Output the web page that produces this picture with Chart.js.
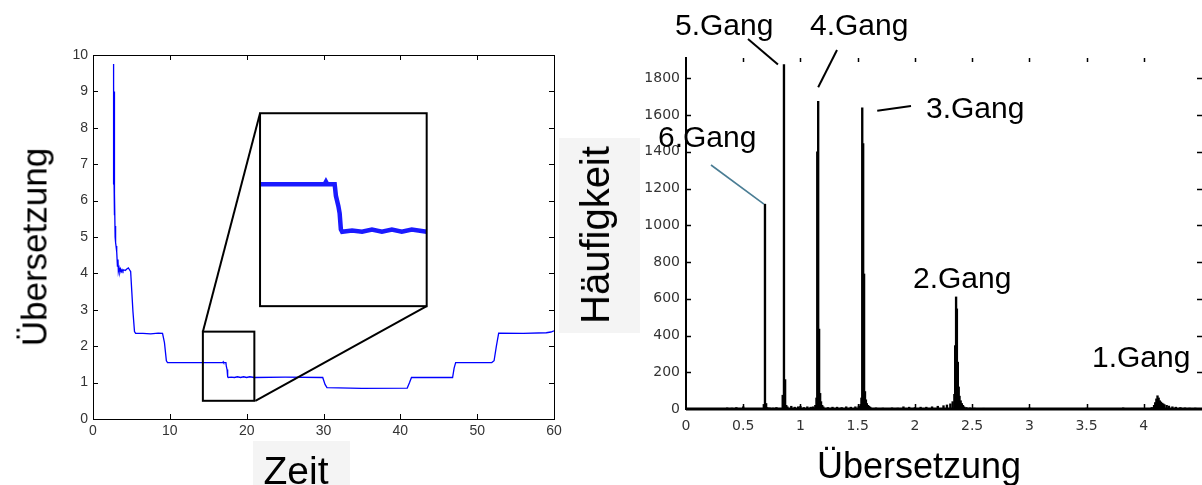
<!DOCTYPE html>
<html><head><meta charset="utf-8">
<script src="https://cdn.jsdelivr.net/npm/chart.js@4.4.1/dist/chart.umd.min.js"></script>
<style>
html,body{margin:0;padding:0;background:#fff;}
#wrap{position:relative;width:1202px;height:485px;overflow:hidden;background:#fff;}
canvas{position:absolute;left:0;top:0;}
.lbl{position:absolute;font-family:"Liberation Sans",Arial,sans-serif;color:#000;white-space:nowrap;line-height:1;}
.gear{font-size:30px;}
.bg{position:absolute;background:#f4f4f4;}
</style></head>
<body><div id="wrap">
<div class="bg" style="left:253px;top:441px;width:97px;height:44px"></div>
<div class="bg" style="left:559px;top:138px;width:81px;height:195px"></div>
<canvas id="cL" width="1202" height="485"></canvas>
<canvas id="cI" width="1202" height="485"></canvas>
<canvas id="cR" width="1202" height="485"></canvas>
<div class="lbl" style="font-size:35px;left:34px;top:247px;transform:translate(-50%,-50%) rotate(-90deg)">Übersetzung</div>
<div class="lbl" style="font-size:39px;left:296px;top:451px;transform:translateX(-50%)">Zeit</div>
<div class="lbl" style="font-size:40px;left:595px;top:235px;transform:translate(-50%,-50%) rotate(-90deg)">Häufigkeit</div>
<div class="lbl" style="font-size:36px;left:919px;top:448px;transform:translateX(-50%)">Übersetzung</div>
<div class="lbl gear" style="left:675px;top:10px">5.Gang</div>
<div class="lbl gear" style="left:810px;top:10px">4.Gang</div>
<div class="lbl gear" style="left:926px;top:93px">3.Gang</div>
<div class="lbl gear" style="left:658px;top:122px">6.Gang</div>
<div class="lbl gear" style="left:913px;top:263px">2.Gang</div>
<div class="lbl gear" style="left:1092px;top:342px">1.Gang</div>
</div>
<script>
// ---- left chart: gear ratio over time ----
const timeS = [2.62,2.632,2.644,2.656,2.668,2.68,2.692,2.704,2.716,2.728,2.74,2.752,2.764,2.776,2.788,2.80,2.82,2.85,2.88,2.92,2.96,3.0,3.05,3.12,3.18,3.25,3.3,3.4,3.5,3.6,3.7,3.8,3.9,4.0,4.2,4.4,4.6,4.75,4.9,5.05,5.2,5.4,5.55,6.5,7.5,8.5,9.05,9.3,9.55,9.7,12,15,16.9,16.95,17.0,17.3,17.35,17.45,17.5,17.55,17.6,18,18.4,18.8,19.2,19.6,20,20.4,21,25,29.9,30.2,30.45,35,40.9,41.2,41.45,46.8,47.0,47.2,51.9,52.2,52.5,52.8,56,59,59.6,60];
const ratioVals = [6.45,9.4,6.5,9.75,6.6,9.4,6.5,9.35,6.6,9.2,6.5,9.0,6.45,8.6,6.4,7.6,5.6,6.2,5.0,5.3,4.85,4.75,4.7,4.6,4.2,4.38,4.05,4.15,4.03,4.12,4.05,4.1,4.06,4.1,4.08,4.12,4.15,4.1,4.05,3.5,2.95,2.4,2.35,2.35,2.34,2.36,2.35,2.1,1.6,1.55,1.55,1.55,1.55,1.57,1.55,1.55,1.45,1.36,1.3,1.16,1.14,1.15,1.14,1.16,1.14,1.16,1.14,1.16,1.14,1.15,1.14,0.95,0.86,0.84,0.85,1.0,1.14,1.14,1.4,1.55,1.55,1.6,2.0,2.36,2.35,2.37,2.39,2.42];
const leftXTicks = [0,10,20,30,40,50,60];
const leftYTicks = [0,1,2,3,4,5,6,7,8,9,10];
const zoomWindow = {x0:14.3, x1:21, y0:0.5, y1:2.4};
const insetRegion = {x0:21.74, x1:43.43, y0:3.10, y1:8.40};
const insetRange = {x0:14.3, x1:21, y0:0.5, y1:2.16};

// ---- right chart: histogram of gear ratios ----
const gearBins = [0.36,0.40,0.44,0.50,0.68,0.69,0.70,0.71,0.73,0.76,0.79,0.845,0.856,0.866,0.876,0.886,0.92,0.95,0.98,1.0,1.03,1.06,1.09,1.11,1.13,1.14,1.147,1.155,1.163,1.172,1.18,1.19,1.20,1.24,1.28,1.32,1.36,1.40,1.44,1.48,1.51,1.525,1.533,1.540,1.548,1.556,1.564,1.572,1.58,1.59,1.60,1.61,1.66,1.72,1.80,1.85,1.90,1.95,2.0,2.05,2.1,2.15,2.2,2.25,2.28,2.31,2.33,2.345,2.352,2.360,2.367,2.375,2.383,2.39,2.40,2.41,2.42,2.43,2.45,2.48,2.52,2.6,3.0,3.5,3.82,4.07,4.09,4.10,4.11,4.12,4.13,4.14,4.15,4.16,4.17,4.18,4.2,4.22,4.25,4.28,4.32,4.36,4.4,4.45];
const gearCounts = [6,5,8,12,25,1115,30,8,6,5,8,75,1875,160,20,12,15,10,12,15,8,12,10,12,20,60,1400,1675,435,85,40,20,12,8,10,10,8,12,10,12,15,25,60,1640,1445,735,95,50,30,20,15,10,6,5,6,5,12,10,8,10,10,12,15,18,22,28,40,80,345,610,545,255,120,70,45,30,20,12,8,6,5,4,6,5,6,8,20,35,55,72,60,45,38,32,28,24,20,16,12,10,8,6,5,5];
const rightXTicks = [0,0.5,1,1.5,2,2.5,3,3.5,4];
const rightYTicks = [0,200,400,600,800,1000,1200,1400,1600,1800];
const gearPeaks = {'6.Gang':0.69,'5.Gang':0.856,'4.Gang':1.155,'3.Gang':1.54};

const W = 1202, H = 485;
function seg(ctx,x1,y1,x2,y2){ctx.beginPath();ctx.moveTo(x1,y1);ctx.lineTo(x2,y2);ctx.stroke();}

const leftDeco = {
  id:'leftDeco',
  afterDraw(chart){
    const {ctx, chartArea:a, scales:{x,y}} = chart;
    ctx.save();
    ctx.strokeStyle='#000'; ctx.lineWidth=1;
    ctx.strokeRect(Math.round(a.left)+0.5, Math.round(a.top)+0.5, Math.round(a.right-a.left), Math.round(a.bottom-a.top));
    leftXTicks.forEach(v=>{ if(v===0||v===60) return; const px=Math.round(x.getPixelForValue(v))+0.5;
      seg(ctx,px,a.bottom,px,a.bottom-5); seg(ctx,px,a.top,px,a.top+5); });
    leftYTicks.forEach(v=>{ if(v===0||v===10) return; const py=Math.round(y.getPixelForValue(v))+0.5;
      seg(ctx,a.left,py,a.left+5,py); seg(ctx,a.right,py,a.right-5,py); });
    const zx0=x.getPixelForValue(zoomWindow.x0), zx1=x.getPixelForValue(zoomWindow.x1);
    const zy0=y.getPixelForValue(zoomWindow.y0), zy1=y.getPixelForValue(zoomWindow.y1);
    const ix0=x.getPixelForValue(insetRegion.x0), ix1=x.getPixelForValue(insetRegion.x1);
    const iy0=y.getPixelForValue(insetRegion.y0), iy1=y.getPixelForValue(insetRegion.y1);
    ctx.lineWidth=2;
    ctx.strokeRect(zx0, zy1, zx1-zx0, zy0-zy1);
    seg(ctx, zx0, zy1, ix0, iy1);
    seg(ctx, zx1+1, zy0, ix1, iy0);
    ctx.restore();
  }
};

const tickFontL = {family:'"Liberation Sans", Arial, sans-serif', size:14};
const chartL = new Chart(document.getElementById('cL'), {
  type:'line',
  data:{datasets:[{data:timeS.map((t,i)=>({x:t,y:ratioVals[i]})), borderColor:'#0000ff', borderWidth:1.3, pointRadius:0, tension:0, fill:false}]},
  options:{
    responsive:false, animation:false, devicePixelRatio:1,
    layout:{padding:{left:0, top:55, right:W-554, bottom:0}},
    plugins:{legend:{display:false}, tooltip:{enabled:false}},
    scales:{
      x:{type:'linear', min:0, max:60,
         afterBuildTicks(s){ s.ticks = leftXTicks.map(v=>({value:v})); },
         afterFit(s){ s.height = H-419; },
         ticks:{font:tickFontL, color:'#333', padding:4, maxRotation:0, autoSkip:false, callback:v=>String(v)},
         grid:{display:false, drawTicks:false}, border:{display:false}},
      y:{type:'linear', min:0, max:10,
         afterBuildTicks(s){ s.ticks = leftYTicks.map(v=>({value:v})); },
         afterFit(s){ s.width = 93; },
         ticks:{font:tickFontL, color:'#333', padding:5, autoSkip:false, callback:v=>String(v)},
         grid:{display:false, drawTicks:false}, border:{display:false}}
    }
  },
  plugins:[leftDeco]
});

const sx = chartL.scales.x, sy = chartL.scales.y;
const iL = sx.getPixelForValue(insetRegion.x0), iR = sx.getPixelForValue(insetRegion.x1);
const iT = sy.getPixelForValue(insetRegion.y1), iB = sy.getPixelForValue(insetRegion.y0);
const insetDeco = {
  id:'insetDeco',
  beforeDatasetsDraw(chart){ const {ctx,chartArea:a}=chart; ctx.save(); ctx.fillStyle='#fff'; ctx.fillRect(a.left,a.top,a.right-a.left,a.bottom-a.top); ctx.restore(); },
  afterDraw(chart){ const {ctx,chartArea:a}=chart; ctx.save(); ctx.strokeStyle='#000'; ctx.lineWidth=2; ctx.strokeRect(a.left,a.top,a.right-a.left,a.bottom-a.top); ctx.restore(); }
};
new Chart(document.getElementById('cI'), {
  type:'line',
  data:{datasets:[{data:timeS.map((t,i)=>({x:t,y:ratioVals[i]})), borderColor:'#1a1aff', borderWidth:4.5, pointRadius:0, tension:0, fill:false}]},
  options:{
    responsive:false, animation:false, devicePixelRatio:1,
    layout:{padding:{left:iL, top:iT, right:W-iR, bottom:H-iB}},
    plugins:{legend:{display:false}, tooltip:{enabled:false}},
    scales:{
      x:{type:'linear', display:false, min:insetRange.x0, max:insetRange.x1},
      y:{type:'linear', display:false, min:insetRange.y0, max:insetRange.y1}
    }
  },
  plugins:[insetDeco]
});

function peakCount(xc){ let m=0, mi=-1; gearBins.forEach((b,i)=>{ if(Math.abs(b-xc)<0.012 && gearCounts[i]>m){m=gearCounts[i];mi=i;} }); return {x:gearBins[mi], y:m}; }
const rightDeco = {
  id:'rightDeco',
  afterDatasetsDraw(chart){
    const {ctx, chartArea:a, scales:{x,y}} = chart;
    ctx.save();
    ctx.strokeStyle='#000';
    ctx.lineWidth=2; seg(ctx, a.left, a.top, a.left, a.bottom+1);
    ctx.lineWidth=3; seg(ctx, a.left, a.bottom, W, a.bottom);
    ctx.lineWidth=1.5;
    rightXTicks.forEach(v=>{ if(v===0) return; const px=Math.round(x.getPixelForValue(v))+0.5;
      seg(ctx,px,a.top+1,px,a.top+5); seg(ctx,px,a.bottom-5,px,a.bottom); });
    rightYTicks.forEach(v=>{ if(v===0) return; const py=Math.round(y.getPixelForValue(v))+0.5;
      seg(ctx,a.left,py,a.left+5,py); seg(ctx,W-5,py,W,py); });
    const p = n => { const pk=peakCount(gearPeaks[n]); return [x.getPixelForValue(pk.x), y.getPixelForValue(pk.y)]; };
    ctx.lineWidth=2;
    let q=p('5.Gang'); seg(ctx, 748, 39, q[0]-6, q[1]);
    q=p('4.Gang'); seg(ctx, 837, 50, q[0], q[1]-14);
    q=p('3.Gang'); seg(ctx, 911, 106, q[0]+15, q[1]+3);
    ctx.strokeStyle='#4a7d94'; ctx.lineWidth=1.6;
    q=p('6.Gang'); seg(ctx, 711, 165, q[0]-1, q[1]);
    ctx.restore();
  }
};
const tickFontR = {family:'"DejaVu Sans", sans-serif', size:14};
new Chart(document.getElementById('cR'), {
  type:'bar',
  data:{datasets:[{data:gearBins.map((b,i)=>({x:b,y:gearCounts[i]})), backgroundColor:'#000', borderWidth:0, barThickness:1.7}]},
  options:{
    responsive:false, animation:false, devicePixelRatio:1,
    layout:{padding:{left:0, top:57, right:1, bottom:0}},
    plugins:{legend:{display:false}, tooltip:{enabled:false}},
    scales:{
      x:{type:'linear', min:0, max:4.5, offset:false,
         afterBuildTicks(s){ s.ticks = rightXTicks.map(v=>({value:v})); },
         afterFit(s){ s.height = H-409; },
         ticks:{font:tickFontR, color:'#333', padding:9, maxRotation:0, autoSkip:false, callback:v=>String(v)},
         grid:{display:false, drawTicks:false}, border:{display:false}},
      y:{type:'linear', min:0, max:1916,
         afterBuildTicks(s){ s.ticks = rightYTicks.map(v=>({value:v})); },
         afterFit(s){ s.width = 686; },
         ticks:{font:tickFontR, color:'#333', padding:6, autoSkip:false, callback:v=>String(v)},
         grid:{display:false, drawTicks:false}, border:{display:false}}
    }
  },
  plugins:[rightDeco]
});
</script>
</body></html>
